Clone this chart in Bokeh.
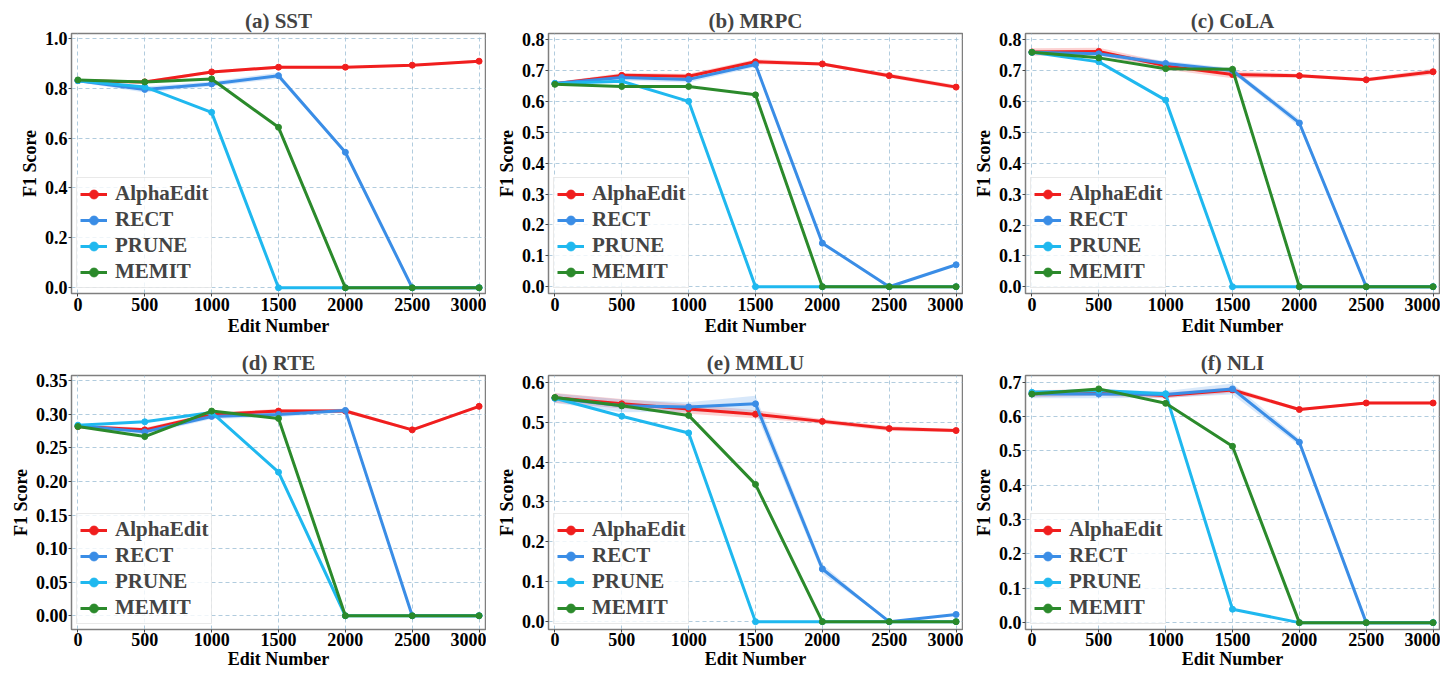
from bokeh.plotting import figure
from bokeh.layouts import column, row
from bokeh.models import Range1d, FixedTicker, NumeralTickFormatter
from bokeh.embed import file_html
from bokeh.resources import INLINE

EDITS = [0, 500, 1000, 1500, 2000, 2500, 3000]
METHODS = ["AlphaEdit", "RECT", "PRUNE", "MEMIT"]
COLORS = ["#f01e1e", "#3a8de6", "#1fb8ef", "#2b8a2b"]
TITLES = ["(a) SST", "(b) MRPC", "(c) CoLA", "(d) RTE", "(e) MMLU", "(f) NLI"]

# (a) SST
SST_ALPHAEDIT = [0.830, 0.825, 0.865, 0.884, 0.884, 0.892, 0.908]
SST_RECT = [0.830, 0.795, 0.817, 0.850, 0.543, 0.0, 0.0]
SST_PRUNE = [0.830, 0.805, 0.703, 0.0, 0.0, 0.0, 0.0]
SST_MEMIT = [0.833, 0.825, 0.837, 0.643, 0.0, 0.0, 0.0]
# (b) MRPC
MRPC_ALPHAEDIT = [0.657, 0.684, 0.681, 0.728, 0.721, 0.683, 0.646]
MRPC_RECT = [0.658, 0.677, 0.671, 0.719, 0.141, 0.0, 0.071]
MRPC_PRUNE = [0.658, 0.665, 0.600, 0.0, 0.0, 0.0, 0.0]
MRPC_MEMIT = [0.655, 0.648, 0.648, 0.621, 0.0, 0.0, 0.0]
# (c) CoLA
COLA_ALPHAEDIT = [0.761, 0.763, 0.716, 0.688, 0.684, 0.671, 0.697]
COLA_RECT = [0.760, 0.755, 0.724, 0.701, 0.531, 0.0, 0.0]
COLA_PRUNE = [0.760, 0.729, 0.605, 0.0, 0.0, 0.0, 0.0]
COLA_MEMIT = [0.760, 0.742, 0.707, 0.705, 0.0, 0.0, 0.0]
# (d) RTE
RTE_ALPHAEDIT = [0.282, 0.277, 0.300, 0.305, 0.305, 0.277, 0.312]
RTE_RECT = [0.283, 0.274, 0.297, 0.300, 0.306, 0.0, 0.0]
RTE_PRUNE = [0.284, 0.289, 0.303, 0.214, 0.0, 0.0, 0.0]
RTE_MEMIT = [0.282, 0.267, 0.305, 0.294, 0.0, 0.0, 0.0]
# (e) MMLU
MMLU_ALPHAEDIT = [0.561, 0.546, 0.533, 0.520, 0.502, 0.484, 0.479]
MMLU_RECT = [0.560, 0.541, 0.538, 0.546, 0.132, 0.0, 0.018]
MMLU_PRUNE = [0.560, 0.515, 0.473, 0.0, 0.0, 0.0, 0.0]
MMLU_MEMIT = [0.562, 0.541, 0.517, 0.344, 0.0, 0.0, 0.0]
# (f) NLI
NLI_ALPHAEDIT = [0.666, 0.670, 0.661, 0.677, 0.620, 0.639, 0.639]
NLI_RECT = [0.665, 0.665, 0.664, 0.680, 0.525, 0.0, 0.0]
NLI_PRUNE = [0.670, 0.675, 0.666, 0.039, 0.0, 0.0, 0.0]
NLI_MEMIT = [0.665, 0.680, 0.638, 0.513, 0.0, 0.0, 0.0]

# shaded spread (half width) around AlphaEdit and RECT
SST_SPREAD = [[0.005, 0.006, 0.006, 0.006, 0.004, 0.004, 0.006], [0.006, 0.012, 0.010, 0.012, 0.006, 0.0, 0.0]]
MRPC_SPREAD = [[0.005, 0.008, 0.008, 0.008, 0.005, 0.007, 0.007], [0.005, 0.010, 0.010, 0.008, 0.005, 0.0, 0.0]]
COLA_SPREAD = [[0.012, 0.012, 0.012, 0.012, 0.006, 0.006, 0.010], [0.006, 0.008, 0.008, 0.008, 0.012, 0.0, 0.0]]
RTE_SPREAD = [[0.003, 0.003, 0.003, 0.003, 0.003, 0.002, 0.002], [0.003, 0.004, 0.004, 0.004, 0.003, 0.0, 0.0]]
MMLU_SPREAD = [[0.012, 0.012, 0.012, 0.010, 0.006, 0.006, 0.004], [0.012, 0.016, 0.012, 0.020, 0.012, 0.0, 0.002]]
NLI_SPREAD = [[0.010, 0.010, 0.008, 0.008, 0.004, 0.004, 0.004], [0.012, 0.012, 0.010, 0.016, 0.010, 0.0, 0.0]]

Y_RANGES = [(-0.023, 1.019), (-0.022, 0.8195), (-0.022, 0.821),
            (-0.0205, 0.358), (-0.0197, 0.617), (-0.020, 0.719)]
Y_TICKS = [[0.0, 0.2, 0.4, 0.6, 0.8, 1.0],
           [0.0, 0.1, 0.2, 0.3, 0.4, 0.5, 0.6, 0.7, 0.8],
           [0.0, 0.1, 0.2, 0.3, 0.4, 0.5, 0.6, 0.7, 0.8],
           [0.0, 0.05, 0.10, 0.15, 0.20, 0.25, 0.30, 0.35],
           [0.0, 0.1, 0.2, 0.3, 0.4, 0.5, 0.6],
           [0.0, 0.1, 0.2, 0.3, 0.4, 0.5, 0.6, 0.7]]
Y_FORMATS = ["0.0", "0.0", "0.0", "0.00", "0.0", "0.0"]

PANELS = [
    [SST_ALPHAEDIT, SST_RECT, SST_PRUNE, SST_MEMIT],
    [MRPC_ALPHAEDIT, MRPC_RECT, MRPC_PRUNE, MRPC_MEMIT],
    [COLA_ALPHAEDIT, COLA_RECT, COLA_PRUNE, COLA_MEMIT],
    [RTE_ALPHAEDIT, RTE_RECT, RTE_PRUNE, RTE_MEMIT],
    [MMLU_ALPHAEDIT, MMLU_RECT, MMLU_PRUNE, MMLU_MEMIT],
    [NLI_ALPHAEDIT, NLI_RECT, NLI_PRUNE, NLI_MEMIT],
]
SPREADS = [SST_SPREAD, MRPC_SPREAD, COLA_SPREAD, RTE_SPREAD, MMLU_SPREAD, NLI_SPREAD]

FONT = "Liberation Serif"


def make_panel(i):
    top_row = i < 3
    first_col = i % 3 == 0
    p = figure(
        frame_width=414,
        frame_height=260 if top_row else 254,
        x_range=Range1d(-48, 3048),
        y_range=Range1d(*Y_RANGES[i]),
        output_backend="svg",
        toolbar_location=None,
        min_border_left=71 if first_col else 62,
        min_border_right=1,
        min_border_top=33 if top_row else 32,
        min_border_bottom=50 if top_row else 38,
    )
    p.title.text = TITLES[i]
    p.title.align = "center"
    p.title.text_font = FONT
    p.title.text_font_style = "bold"
    p.title.text_font_size = "21px"
    p.title.standoff = 1
    p.title.offset = 0

    p.outline_line_color = "#7f7f7f"
    p.outline_line_width = 1.5
    p.background_fill_color = "white"

    for ax in (p.xaxis[0], p.yaxis[0]):
        ax.axis_line_color = None
        ax.major_tick_line_color = "#444444"
        ax.major_tick_out = 3
        ax.major_tick_in = 0
        ax.minor_tick_line_color = None
        ax.major_label_text_font = FONT
        ax.major_label_text_font_style = "bold"
        ax.major_label_text_font_size = "18px"
        ax.major_label_text_color = "black"
        ax.axis_label_text_font = FONT
        ax.axis_label_text_font_style = "bold"
        ax.axis_label_text_font_size = "18px"
        ax.axis_label_text_color = "black"
        ax.axis_label_standoff = 2
        ax.major_label_standoff = 1
    if not top_row:
        p.xaxis[0].axis_label_standoff = 0
        p.xaxis[0].major_label_standoff = 0

    p.xaxis.axis_label = "Edit Number"
    p.yaxis.axis_label = "F1 Score"
    p.xaxis.ticker = FixedTicker(ticks=EDITS)
    p.yaxis.ticker = FixedTicker(ticks=Y_TICKS[i])
    p.yaxis.formatter = NumeralTickFormatter(format=Y_FORMATS[i])

    for g in (p.xgrid[0], p.ygrid[0]):
        g.grid_line_color = "#a9c6da"
        g.grid_line_dash = "4 3"
        g.grid_line_width = 1
        g.grid_line_alpha = 0.9

    series = PANELS[i]
    spreads = SPREADS[i]
    for k in range(2):
        vals = series[k]
        lo = [v - s for v, s in zip(vals, spreads[k])]
        hi = [v + s for v, s in zip(vals, spreads[k])]
        p.varea(x=EDITS, y1=lo, y2=hi, fill_color=COLORS[k], fill_alpha=0.2)

    for k, name in enumerate(METHODS):
        p.line(EDITS, series[k], line_color=COLORS[k], line_width=3, legend_label=name)
        p.scatter(EDITS, series[k], size=6, marker="circle", fill_color=COLORS[k],
                  line_color=COLORS[k], legend_label=name)

    lg = p.legend[0]
    lg.location = "bottom_left"
    lg.margin = 5
    lg.padding = 3
    lg.spacing = 1
    lg.label_text_font = FONT
    lg.label_text_font_style = "bold"
    lg.label_text_font_size = "21px"
    lg.label_height = 22
    lg.glyph_height = 22
    lg.glyph_width = 27
    lg.label_standoff = 8
    lg.border_line_color = "#d4d4d4"
    lg.border_line_width = 1
    lg.background_fill_alpha = 0.8
    return p


figs = [make_panel(i) for i in range(6)]
layout = column(row(*figs[:3]), row(*figs[3:]))

open("out.html", "w").write(file_html(layout, INLINE))
